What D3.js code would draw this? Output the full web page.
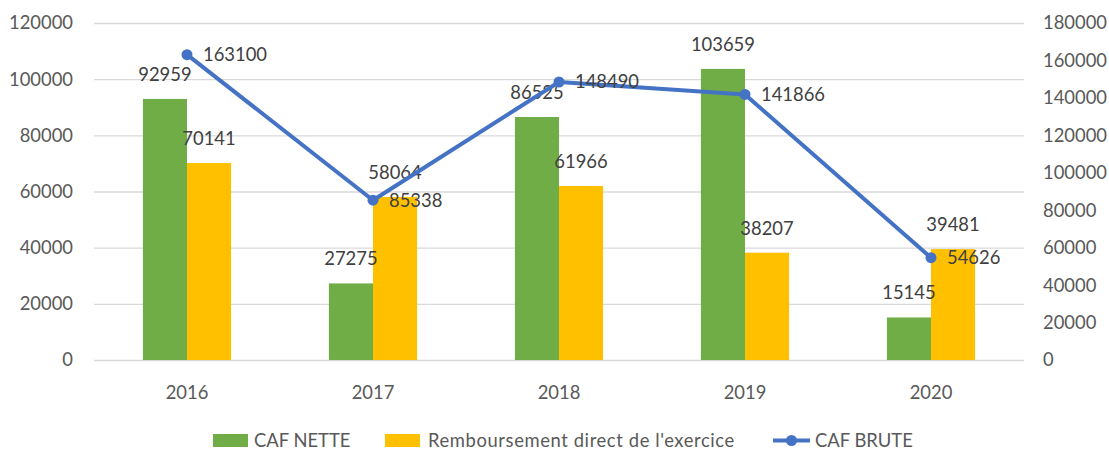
<!DOCTYPE html>
<meta charset="utf-8">
<script src="https://d3js.org/d3.v7.min.js"></script>
<style>
  body { margin: 0; background: #fff; }
  text { font-family: Lato, "Liberation Sans", sans-serif; }
</style>
<div id="my_dataviz"></div>
<script>

// data
var years = ["2016", "2017", "2018", "2019", "2020"];
var cafNette = [92959, 27275, 86525, 103659, 15145];
var remboursement = [70141, 58064, 61966, 38207, 39481];
var cafBrute = [163100, 85338, 148490, 141866, 54626];
var leftTicks = [0, 20000, 40000, 60000, 80000, 100000, 120000];
var rightTicks = [0, 20000, 40000, 60000, 80000, 100000, 120000, 140000, 160000, 180000];

var W = 1109, H = 450;
var plot = {left: 94, right: 1024, top: 23, bottom: 360};
var fontSize = "18.4px";

var svg = d3.select("#my_dataviz")
  .append("svg")
    .attr("width", W)
    .attr("height", H);

// scales
var x = d3.scaleBand()
    .domain(years)
    .range([plot.left, plot.right])
    .padding(0);
var yL = d3.scaleLinear().domain([0, 120000]).range([plot.bottom, plot.top]);
var yR = d3.scaleLinear().domain([0, 180000]).range([plot.bottom, plot.top]);
var barW = x.bandwidth() * 0.237;
var cx = function(d) { return x(d) + x.bandwidth() / 2; };

// left axis + gridlines
var gl = svg.append("g")
    .attr("transform", "translate(" + plot.left + ",0)")
    .call(d3.axisLeft(yL).tickValues(leftTicks).tickSize(-(plot.right - plot.left)).tickPadding(21).tickFormat(d3.format("d")));
gl.select(".domain").remove();
gl.selectAll("line").attr("stroke", "#d9d9d9").attr("stroke-width", 1.3);
gl.selectAll("text").style("font-size", fontSize).attr("fill", "#595959");

// right axis
var gr = svg.append("g")
    .attr("transform", "translate(" + plot.right + ",0)")
    .call(d3.axisRight(yR).tickValues(rightTicks).tickSize(0).tickPadding(19).tickFormat(d3.format("d")));
gr.select(".domain").remove();
gr.selectAll("text").style("font-size", fontSize).attr("fill", "#595959");

// x labels
svg.selectAll(".xlab")
  .data(years)
  .enter()
  .append("text")
    .attr("x", cx)
    .attr("y", 399)
    .attr("text-anchor", "middle")
    .style("font-size", fontSize)
    .attr("fill", "#595959")
    .text(function(d) { return d; });

// bars
svg.selectAll(".bar1")
  .data(years)
  .enter()
  .append("rect")
    .attr("x", function(d) { return cx(d) - barW; })
    .attr("y", function(d, i) { return yL(cafNette[i]); })
    .attr("width", barW)
    .attr("height", function(d, i) { return plot.bottom - yL(cafNette[i]); })
    .attr("fill", "#70ad47");

svg.selectAll(".bar2")
  .data(years)
  .enter()
  .append("rect")
    .attr("x", function(d) { return cx(d); })
    .attr("y", function(d, i) { return yL(remboursement[i]); })
    .attr("width", barW)
    .attr("height", function(d, i) { return plot.bottom - yL(remboursement[i]); })
    .attr("fill", "#ffc000");

// bar labels
svg.selectAll(".lab1")
  .data(years)
  .enter()
  .append("text")
    .attr("x", function(d) { return cx(d) - barW / 2; })
    .attr("y", function(d, i) { return yL(cafNette[i]) - 18; })
    .attr("text-anchor", "middle")
    .style("font-size", fontSize)
    .attr("fill", "#404040")
    .text(function(d, i) { return cafNette[i]; });

svg.selectAll(".lab2")
  .data(years)
  .enter()
  .append("text")
    .attr("x", function(d) { return cx(d) + barW / 2; })
    .attr("y", function(d, i) { return yL(remboursement[i]) - 18; })
    .attr("text-anchor", "middle")
    .style("font-size", fontSize)
    .attr("fill", "#404040")
    .text(function(d, i) { return remboursement[i]; });

// line (right axis)
var line = d3.line()
    .x(function(d, i) { return cx(years[i]); })
    .y(function(d) { return yR(d); });

svg.append("path")
    .datum(cafBrute)
    .attr("d", line)
    .attr("fill", "none")
    .attr("stroke", "#4472c4")
    .attr("stroke-width", 4)
    .attr("stroke-linejoin", "round");

svg.selectAll(".dot")
  .data(cafBrute)
  .enter()
  .append("circle")
    .attr("cx", function(d, i) { return cx(years[i]); })
    .attr("cy", function(d) { return yR(d); })
    .attr("r", 5.5)
    .attr("fill", "#4472c4");

svg.selectAll(".lab3")
  .data(cafBrute)
  .enter()
  .append("text")
    .attr("x", function(d, i) { return cx(years[i]) + 16; })
    .attr("y", function(d) { return yR(d) + 6.5; })
    .style("font-size", fontSize)
    .attr("fill", "#404040")
    .text(function(d) { return d; });

// Handmade legend
var lg = svg.append("g");
lg.append("rect").attr("x", 213).attr("y", 434).attr("width", 35).attr("height", 13).attr("fill", "#70ad47");
lg.append("text").attr("x", 254).attr("y", 447).text("CAF NETTE").style("font-size", fontSize).attr("fill", "#595959");
lg.append("rect").attr("x", 385).attr("y", 434).attr("width", 35).attr("height", 13).attr("fill", "#ffc000");
lg.append("text").attr("x", 428).attr("y", 447).text("Remboursement direct de l'exercice").style("font-size", fontSize).style("letter-spacing", "0.6px").attr("fill", "#595959");
lg.append("line").attr("x1", 773).attr("x2", 810).attr("y1", 440.5).attr("y2", 440.5).attr("stroke", "#4472c4").attr("stroke-width", 4);
lg.append("circle").attr("cx", 791.5).attr("cy", 440.5).attr("r", 5.5).attr("fill", "#4472c4");
lg.append("text").attr("x", 815).attr("y", 447).text("CAF BRUTE").style("font-size", fontSize).attr("fill", "#595959");

</script>
